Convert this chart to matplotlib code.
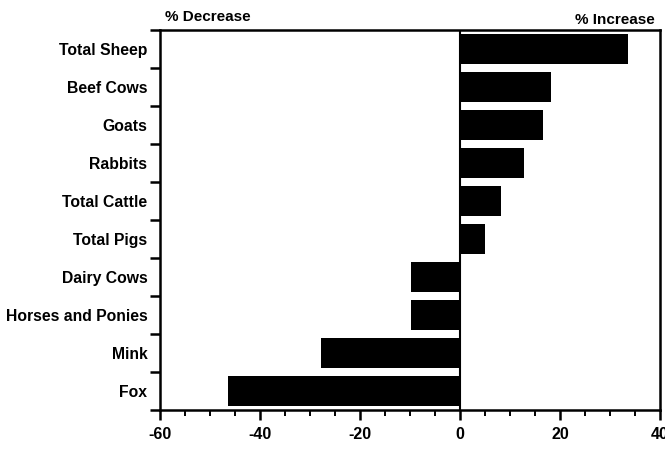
import matplotlib.pyplot as plt
import numpy as np

categories = ["Total Sheep", "Beef Cows", "Goats", "Rabbits", "Total Cattle",
              "Total Pigs", "Dairy Cows", "Horses and Ponies", "Mink", "Fox"]
pct_change = [33.6, 18.2, 16.6, 12.8, 8.2, 5.0, -9.8, -9.8, -27.8, -46.4]
xticks = [-60, -40, -20, 0, 20, 40]

plt.rcParams['font.family'] = ['Liberation Sans', 'DejaVu Sans']
plt.rcParams['font.weight'] = 'bold'

fig = plt.figure(figsize=(6.65, 4.53), dpi=100)
ax = fig.add_axes([0.2406, 0.0949, 0.752, 0.8389])

n = len(categories)
ypos = np.arange(n)
ax.barh(ypos, pct_change, height=0.78, color='black')
ax.axvline(0, color='black', lw=1.5)

ax.set_xlim(-60, 40)
ax.set_ylim(n - 0.5, -0.5)

# category names sit between the ticks, ticks mark the boundaries
ax.set_yticks(np.arange(-0.5, n, 1.0))
ax.set_yticklabels([])
ax.set_yticks(ypos, minor=True)
ax.set_yticklabels(categories, minor=True, fontsize=11.3, fontweight='bold')
ax.tick_params(axis='y', which='major', direction='out', length=7, width=1.8)
ax.tick_params(axis='y', which='minor', length=0, pad=9)

ax.set_xticks(xticks)
ax.set_xticklabels([str(v) for v in xticks], fontsize=11.5, fontweight='bold')
ax.set_xticks(np.arange(-55, 40, 5), minor=True)
ax.tick_params(axis='x', which='major', direction='out', length=7, width=1.8, pad=5)
ax.tick_params(axis='x', which='minor', direction='out', length=4, width=1.4)

for s in ax.spines.values():
    s.set_linewidth(1.8)

fig.text(0.248, 0.963, "% Decrease", fontsize=11, fontweight='bold', ha='left', va='center')
fig.text(0.985, 0.955, "% Increase", fontsize=11, fontweight='bold', ha='right', va='center')

plt.savefig("out.png", dpi=100)
plt.close()
